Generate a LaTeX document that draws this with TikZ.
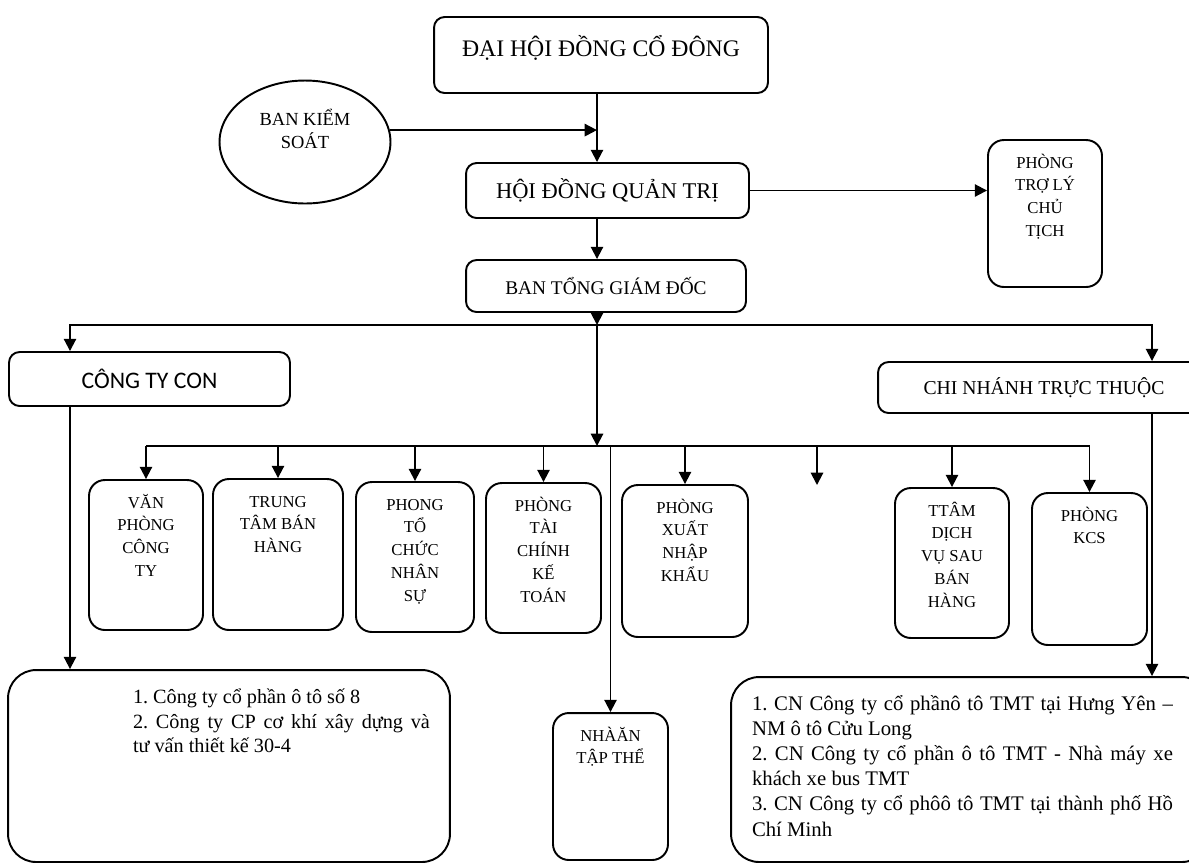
\documentclass[tikz,border=0pt]{standalone}
\usepackage{fontspec}
\setmainfont{Liberation Serif}
\newfontfamily\sansfont{Carlito}
\usetikzlibrary{arrows.meta,shapes.geometric}
\frenchspacing
\begin{document}
\begin{tikzpicture}[x=0.02cm, y=-0.02cm, line width=1.1pt, >={Triangle[length=7pt,width=7pt]},
  box/.style={draw, rounded corners=6pt, inner sep=0pt},
  dept/.style 2 args={draw, rounded corners=9pt, inner sep=0pt, font=\fontsize{9.5}{13}\selectfont,
    execute at begin node={\begin{minipage}[t][#2][t]{#1}\centering\vspace*{6pt}\rule{0pt}{10pt}},
    execute at end node={\end{minipage}}},
  list/.style n args={4}{draw, rounded corners=16pt, inner sep=0pt,
    execute at begin node={\begin{minipage}[t][#2][t]{#1}\leftskip=#3\rightskip=#4\vspace*{8pt}\rule{0pt}{11pt}},
    execute at end node={\end{minipage}}}]
\useasboundingbox (0,0) rectangle (1189,867);
\clip (0,0) rectangle (1189,867);
\coordinate (spine) at (597,0);
\coordinate (bus) at (0,325);
\coordinate (busL) at (70,325);
\coordinate (busR) at (1152,325);
\coordinate (dline) at (0,446);
\coordinate (gap) at (817,485);
\node[box, minimum width=6.68cm, minimum height=1.52cm, text depth=10pt, font=\fontsize{13.5}{16}\selectfont] (dhdcd) at (601,55) {ĐẠI HỘI ĐỒNG CỔ ĐÔNG};
\node[draw, ellipse, inner sep=0pt, minimum width=3.42cm, minimum height=2.46cm, align=center, text depth=15pt, font=\fontsize{10.5}{13.6}\selectfont] (bks) at (305,142) {BAN KIỂM\\SOÁT};
\node[box, minimum width=5.66cm, minimum height=1.1cm, font=\fontsize{12.8}{15}\selectfont] (hdqt) at (607.5,190.5) {HỘI ĐỒNG QUẢN TRỊ};
\node[dept={2.28cm}{2.94cm}] (trolytc) at (1045,213.5) {PHÒNG\\TRỢ LÝ\\CHỦ\\TỊCH};
\node[box, minimum width=5.6cm, minimum height=1.04cm, font=\fontsize{11}{13}\selectfont] (btgd) at (606,286) {BAN TỔNG GIÁM ĐỐC};
\node[box, minimum width=5.62cm, minimum height=1.08cm, font=\sansfont\fontsize{13.5}{16}\selectfont] (ctycon) at (149.5,379) {CÔNG TY CON};
\node[box, minimum width=6.64cm, minimum height=1.02cm, font=\fontsize{11.2}{13}\selectfont] (cnhanh) at (1044,387.5) {CHI NHÁNH TRỰC THUỘC};
\node[dept={2.28cm}{3.0cm}] (vpct) at (146,555) {VĂN\\PHÒNG\\CÔNG\\TY};
\node[dept={2.6cm}{3.02cm}] (ttbh) at (278,554.5) {TRUNG\\TÂM BÁN\\HÀNG};
\node[dept={2.36cm}{3.0cm}] (ptcns) at (415,557) {PHONG\\TỔ\\CHỨC\\NHÂN\\SỰ};
\node[dept={2.3cm}{3.0cm}] (ptckt) at (543.5,558) {PHÒNG\\TÀI\\CHÍNH\\KẾ\\TOÁN};
\node[dept={2.52cm}{3.04cm}] (pxnk) at (685,561) {PHÒNG\\XUẤT\\NHẬP\\KHẨU};
\node[dept={2.28cm}{3.0cm}] (ttdv) at (952,563) {TTÂM\\DỊCH\\VỤ SAU\\BÁN\\HÀNG};
\node[dept={2.3cm}{3.04cm}] (kcs) at (1089.5,569) {PHÒNG\\KCS};
\node[dept={2.3cm}{2.94cm}] (nhan) at (610.5,786.5) {NHÀĂN\\TẬP THỂ};
\node[list={8.84cm}{3.84cm}{2.5cm}{0.4cm}, font=\fontsize{11.5}{14}\selectfont] (ctlist) at (229,766) {1. Công ty cổ phần ô tô số 8\par 2. Công ty CP cơ khí xây dựng và\linebreak tư vấn thiết kế 30-4};
\node[list={9.58cm}{3.7cm}{0.42cm}{0.74cm}, font=\fontsize{11.8}{14.3}\selectfont] (cnlist) at (970.5,769.5) {1. CN Công ty cổ phầnô tô TMT tại Hưng Yên –\linebreak NM ô tô Cửu Long\par 2. CN Công ty cổ phần ô tô TMT - Nhà máy xe\linebreak khách xe bus TMT\par 3. CN Công ty cổ phôô tô TMT tại thành phố Hồ\linebreak Chí Minh};
\draw[->] (bks.8) -- (bks.8 -| spine);
\draw[->] (spine |- dhdcd.south) -- (spine |- hdqt.north);
\draw[->] (hdqt.east) -- (hdqt.east -| trolytc.west);
\draw[->] (spine |- hdqt.south) -- (spine |- btgd.north);
\draw[->] (spine |- btgd.south) -- (spine |- bus);
\draw[<->] (busL |- ctycon.north) -- (busL) -- (busR) -- (busR |- cnhanh.north);
\draw[->] (spine |- bus) -- (spine |- dline);
\draw (vpct.north |- dline) -- (kcs.north |- dline);
\foreach \d in {vpct,ttbh,ptcns,ptckt,pxnk,ttdv,kcs,nhan}
  \draw[->] (\d.north |- dline) -- (\d.north);
\draw[->] (gap |- dline) -- (gap);
\draw[->] (busL |- ctycon.south) -- (busL |- ctlist.north);
\draw[->] (busR |- cnhanh.south) -- (busR |- cnlist.north);
\end{tikzpicture}
\end{document}
